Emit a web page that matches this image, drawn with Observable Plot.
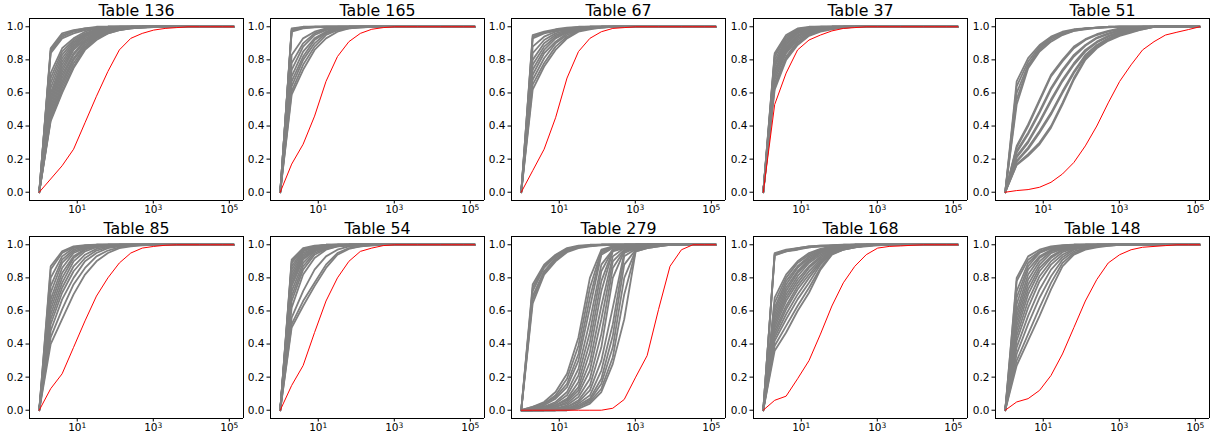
<!DOCTYPE html>
<html><head><meta charset="utf-8">
<script src="https://cdn.jsdelivr.net/npm/d3@7"></script>
<script src="https://cdn.jsdelivr.net/npm/@observablehq/plot@0.6"></script>
<style>
body{margin:0;background:#fff;}
#wrap{position:relative;width:1211px;height:437px;background:#fff;overflow:hidden;}
#wrap > svg{position:absolute;}
</style></head><body><div id="wrap"></div>
<script>
// x positions: sample sizes 2^0 .. 2^17
const xs = [1,2,4,8,16,32,64,128,256,512,1024,2048,4096,8192,16384,32768,65536,131072];
const xTicks = [10, 1000, 100000];
const xTickExp = ["1", "3", "5"];
const yTicks = [0, 0.2, 0.4, 0.6, 0.8, 1.0];
const titles = ["Table 136","Table 165","Table 67","Table 37","Table 51","Table 85","Table 54","Table 279","Table 168","Table 148"];

const t136Red = [0,.08,.16,.26,.42,.58, .73,.86,.93,.96,.98,.99, .995,1,1,1,1,1];
const t136Gray = [
[0,.87,.96,.98,.99,1, 1,1,1,1,1,1, 1,1,1,1,1,1],
[0,.86,.95,.975,.99,.995, 1,1,1,1,1,1, 1,1,1,1,1,1],
[0,.85,.94,.97,.985,.995, 1,1,1,1,1,1, 1,1,1,1,1,1],
[0,.84,.93,.96,.98,.99, .997,1,1,1,1,1, 1,1,1,1,1,1],
[0,.72,.87,.93,.97,.99, 1,1,1,1,1,1, 1,1,1,1,1,1],
[0,.69,.85,.92,.96,.985, .995,1,1,1,1,1, 1,1,1,1,1,1],
[0,.66,.83,.91,.955,.98, .99,.997,1,1,1,1, 1,1,1,1,1,1],
[0,.63,.81,.90,.95,.975, .99,.995,1,1,1,1, 1,1,1,1,1,1],
[0,.60,.79,.89,.945,.97, .985,.995,1,1,1,1, 1,1,1,1,1,1],
[0,.58,.77,.88,.94,.97, .985,.993,.997,1,1,1, 1,1,1,1,1,1],
[0,.56,.75,.87,.93,.965, .98,.99,.996,1,1,1, 1,1,1,1,1,1],
[0,.54,.73,.86,.92,.96, .98,.99,.995,1,1,1, 1,1,1,1,1,1],
[0,.52,.71,.84,.915,.955, .975,.988,.995,1,1,1, 1,1,1,1,1,1],
[0,.50,.69,.83,.91,.95, .975,.987,.994,.998,1,1, 1,1,1,1,1,1],
[0,.48,.67,.81,.90,.945, .97,.985,.993,.997,1,1, 1,1,1,1,1,1],
[0,.46,.65,.80,.89,.94, .97,.985,.993,.997,1,1, 1,1,1,1,1,1],
[0,.45,.63,.78,.88,.935, .965,.982,.99,.996,1,1, 1,1,1,1,1,1],
[0,.44,.61,.76,.87,.93, .96,.98,.99,.995,.998,1, 1,1,1,1,1,1],
[0,.43,.60,.75,.86,.92, .96,.98,.99,.995,.998,1, 1,1,1,1,1,1]
];

const t165Red = [0,.17,.29,.46,.67,.82, .91,.96,.985,.995,1,1, 1,1,1,1,1,1];
const t165Gray = [
[0,.99,1,1,1,1, 1,1,1,1,1,1, 1,1,1,1,1,1],
[0,.985,.998,1,1,1, 1,1,1,1,1,1, 1,1,1,1,1,1],
[0,.98,.995,1,1,1, 1,1,1,1,1,1, 1,1,1,1,1,1],
[0,.975,.993,.998,1,1, 1,1,1,1,1,1, 1,1,1,1,1,1],
[0,.97,.99,.997,1,1, 1,1,1,1,1,1, 1,1,1,1,1,1],
[0,.83,.93,.97,.99,1, 1,1,1,1,1,1, 1,1,1,1,1,1],
[0,.78,.90,.96,.985,.995, 1,1,1,1,1,1, 1,1,1,1,1,1],
[0,.74,.88,.95,.98,.995, 1,1,1,1,1,1, 1,1,1,1,1,1],
[0,.70,.85,.93,.97,.99, .997,1,1,1,1,1, 1,1,1,1,1,1],
[0,.67,.82,.92,.965,.985, .995,1,1,1,1,1, 1,1,1,1,1,1],
[0,.64,.80,.90,.96,.98, .993,1,1,1,1,1, 1,1,1,1,1,1],
[0,.61,.77,.88,.95,.98, .99,.997,1,1,1,1, 1,1,1,1,1,1],
[0,.59,.74,.86,.93,.97, .99,.995,1,1,1,1, 1,1,1,1,1,1]
];

const t67Red = [0,.13,.26,.45,.69,.85, .93,.97,.99,.995,1,1, 1,1,1,1,1,1];
const t67Gray = [
[0,.95,.97,.985,.995,1, 1,1,1,1,1,1, 1,1,1,1,1,1],
[0,.94,.965,.98,.99,.997, 1,1,1,1,1,1, 1,1,1,1,1,1],
[0,.93,.96,.975,.99,.995, 1,1,1,1,1,1, 1,1,1,1,1,1],
[0,.88,.94,.97,.985,.995, 1,1,1,1,1,1, 1,1,1,1,1,1],
[0,.84,.92,.96,.98,.99, .997,1,1,1,1,1, 1,1,1,1,1,1],
[0,.80,.90,.95,.975,.99, .995,1,1,1,1,1, 1,1,1,1,1,1],
[0,.77,.88,.94,.97,.985, .995,1,1,1,1,1, 1,1,1,1,1,1],
[0,.74,.86,.93,.965,.985, .995,1,1,1,1,1, 1,1,1,1,1,1],
[0,.71,.84,.91,.96,.98, .99,.997,1,1,1,1, 1,1,1,1,1,1],
[0,.68,.81,.90,.95,.98, .99,.997,1,1,1,1, 1,1,1,1,1,1],
[0,.65,.78,.88,.94,.975, .99,.995,1,1,1,1, 1,1,1,1,1,1],
[0,.62,.76,.86,.93,.97, .985,.995,1,1,1,1, 1,1,1,1,1,1]
];

const t37Red = [0,.53,.72,.86,.92,.95, .975,.99,.995,1,1,1, 1,1,1,1,1,1];
const t37Gray = [
[0,.84,.95,.99,1,1, 1,1,1,1,1,1, 1,1,1,1,1,1],
[0,.83,.94,.985,.997,1, 1,1,1,1,1,1, 1,1,1,1,1,1],
[0,.82,.93,.98,.995,1, 1,1,1,1,1,1, 1,1,1,1,1,1],
[0,.80,.92,.975,.99,.997, 1,1,1,1,1,1, 1,1,1,1,1,1],
[0,.78,.91,.97,.99,.995, 1,1,1,1,1,1, 1,1,1,1,1,1],
[0,.77,.90,.965,.985,.995, 1,1,1,1,1,1, 1,1,1,1,1,1],
[0,.76,.89,.96,.98,.993, 1,1,1,1,1,1, 1,1,1,1,1,1],
[0,.74,.88,.95,.98,.99, .997,1,1,1,1,1, 1,1,1,1,1,1],
[0,.73,.87,.945,.975,.99, .995,1,1,1,1,1, 1,1,1,1,1,1],
[0,.72,.86,.94,.97,.985, .995,1,1,1,1,1, 1,1,1,1,1,1],
[0,.70,.85,.93,.965,.985, .993,1,1,1,1,1, 1,1,1,1,1,1],
[0,.68,.84,.92,.96,.98, .99,.997,1,1,1,1, 1,1,1,1,1,1],
[0,.66,.82,.91,.955,.98, .99,.995,1,1,1,1, 1,1,1,1,1,1],
[0,.64,.81,.90,.95,.975, .99,.995,1,1,1,1, 1,1,1,1,1,1],
[0,.62,.80,.89,.945,.97, .985,.995,1,1,1,1, 1,1,1,1,1,1]
];

const t51Red = [0,.01,.016,.03,.06,.11, .18,.28,.40,.54,.67,.77, .86,.91,.95,.967,.983,1];
const t51Gray = [
[0,.67,.81,.89,.94,.97, .985,.99,.995,1,1,1, 1,1,1,1,1,1],
[0,.64,.79,.88,.935,.965, .98,.99,.995,1,1,1, 1,1,1,1,1,1],
[0,.60,.77,.87,.93,.96, .98,.99,.995,.998,1,1, 1,1,1,1,1,1],
[0,.56,.76,.86,.92,.955, .975,.988,.994,.998,1,1, 1,1,1,1,1,1],
[0,.53,.75,.85,.91,.95, .975,.985,.993,.997,1,1, 1,1,1,1,1,1],
[0,.28,.41,.56,.71,.80, .88,.925,.955,.975,.99,.997, 1,1,1,1,1,1],
[0,.27,.40,.55,.70,.79, .87,.92,.95,.97,.985,.995, 1,1,1,1,1,1],
[0,.25,.36,.49,.63,.74, .83,.89,.935,.96,.98,.99, .997,1,1,1,1,1],
[0,.24,.35,.48,.62,.73, .82,.885,.93,.955,.975,.99, .997,1,1,1,1,1],
[0,.22,.31,.43,.56,.68, .78,.86,.91,.945,.97,.985, .995,1,1,1,1,1],
[0,.21,.30,.42,.55,.67, .77,.85,.905,.94,.965,.985, .995,1,1,1,1,1],
[0,.19,.27,.37,.48,.61, .73,.83,.89,.93,.96,.98, .99,1,1,1,1,1],
[0,.185,.26,.36,.47,.60, .72,.82,.88,.925,.955,.975, .99,1,1,1,1,1],
[0,.17,.23,.30,.40,.54, .69,.81,.88,.92,.95,.97, .985,1,1,1,1,1],
[0,.165,.22,.29,.39,.53, .68,.80,.87,.915,.945,.965, .985,1,1,1,1,1]
];

const t85Red = [0,.13,.22,.38,.54,.69, .80,.89,.95,.98,.99,.997, 1,1,1,1,1,1];
const t85Gray = [
[0,.87,.96,.99,.997,1, 1,1,1,1,1,1, 1,1,1,1,1,1],
[0,.85,.95,.985,.995,1, 1,1,1,1,1,1, 1,1,1,1,1,1],
[0,.80,.93,.98,.995,1, 1,1,1,1,1,1, 1,1,1,1,1,1],
[0,.75,.91,.97,.99,.997, 1,1,1,1,1,1, 1,1,1,1,1,1],
[0,.71,.89,.96,.985,.995, 1,1,1,1,1,1, 1,1,1,1,1,1],
[0,.67,.86,.95,.98,.993, 1,1,1,1,1,1, 1,1,1,1,1,1],
[0,.64,.83,.93,.975,.99, .997,1,1,1,1,1, 1,1,1,1,1,1],
[0,.61,.80,.92,.97,.99, .995,1,1,1,1,1, 1,1,1,1,1,1],
[0,.58,.77,.90,.96,.985, .995,1,1,1,1,1, 1,1,1,1,1,1],
[0,.55,.74,.87,.94,.975, .99,.997,1,1,1,1, 1,1,1,1,1,1],
[0,.52,.71,.84,.92,.965, .985,.995,1,1,1,1, 1,1,1,1,1,1],
[0,.48,.67,.80,.90,.95, .98,.99,.997,1,1,1, 1,1,1,1,1,1],
[0,.44,.61,.76,.86,.93, .965,.985,.995,1,1,1, 1,1,1,1,1,1],
[0,.40,.55,.70,.82,.90, .95,.98,.99,.997,1,1, 1,1,1,1,1,1]
];

const t54Red = [0,.15,.27,.47,.66,.80, .90,.96,.98,.995,1,1, 1,1,1,1,1,1];
const t54Gray = [
[0,.91,.98,.995,1,1, 1,1,1,1,1,1, 1,1,1,1,1,1],
[0,.90,.975,.99,1,1, 1,1,1,1,1,1, 1,1,1,1,1,1],
[0,.89,.97,.99,.997,1, 1,1,1,1,1,1, 1,1,1,1,1,1],
[0,.87,.965,.99,.997,1, 1,1,1,1,1,1, 1,1,1,1,1,1],
[0,.85,.96,.985,.995,1, 1,1,1,1,1,1, 1,1,1,1,1,1],
[0,.83,.95,.98,.995,1, 1,1,1,1,1,1, 1,1,1,1,1,1],
[0,.81,.94,.98,.99,.997, 1,1,1,1,1,1, 1,1,1,1,1,1],
[0,.79,.93,.975,.99,.997, 1,1,1,1,1,1, 1,1,1,1,1,1],
[0,.77,.92,.97,.99,.995, 1,1,1,1,1,1, 1,1,1,1,1,1],
[0,.75,.91,.965,.985,.995, 1,1,1,1,1,1, 1,1,1,1,1,1],
[0,.72,.89,.96,.985,.995, 1,1,1,1,1,1, 1,1,1,1,1,1],
[0,.69,.87,.95,.98,.993, 1,1,1,1,1,1, 1,1,1,1,1,1],
[0,.66,.85,.94,.975,.99, .997,1,1,1,1,1, 1,1,1,1,1,1],
[0,.62,.82,.92,.97,.99, .995,1,1,1,1,1, 1,1,1,1,1,1],
[0,.56,.72,.85,.93,.97, .99,.995,1,1,1,1, 1,1,1,1,1,1],
[0,.52,.66,.77,.88,.95, .98,.99,.997,1,1,1, 1,1,1,1,1,1],
[0,.50,.63,.75,.86,.94, .975,.99,.997,1,1,1, 1,1,1,1,1,1]
];

const t279Red = [0,0,0,0,0,0, 0,0,.012,.065,.20,.33, .61,.87,.97,1,1,1];
const t279Gray = [
[0,.76,.88,.94,.98,.995, 1,1,1,1,1,1, 1,1,1,1,1,1],
[0,.74,.87,.935,.975,.99, .997,1,1,1,1,1, 1,1,1,1,1,1],
[0,.72,.86,.93,.97,.99, .995,1,1,1,1,1, 1,1,1,1,1,1],
[0,.69,.84,.92,.965,.985, .995,1,1,1,1,1, 1,1,1,1,1,1],
[0,.67,.83,.91,.96,.985, .993,1,1,1,1,1, 1,1,1,1,1,1],
[0,.645,.82,.90,.955,.98, .99,.997,1,1,1,1, 1,1,1,1,1,1],
[0,.02,.05,.11,.22,.44, .80,.97,.99,1,1,1, 1,1,1,1,1,1],
[0,.01,.04,.09,.19,.39, .74,.96,.99,1,1,1, 1,1,1,1,1,1],
[0,.02,.04,.08,.16,.34, .68,.95,.985,1,1,1, 1,1,1,1,1,1],
[0,.01,.03,.07,.14,.30, .62,.94,.98,.995,1,1, 1,1,1,1,1,1],
[0,.01,.02,.05,.11,.25, .54,.88,.97,.99,1,1, 1,1,1,1,1,1],
[0,.01,.02,.04,.09,.21, .47,.84,.97,.99,1,1, 1,1,1,1,1,1],
[0,0,.02,.03,.07,.17, .41,.78,.965,.985,1,1, 1,1,1,1,1,1],
[0,0,.01,.03,.06,.14, .35,.72,.96,.98,.995,1, 1,1,1,1,1,1],
[0,0,.01,.02,.05,.12, .29,.63,.93,.98,.99,1, 1,1,1,1,1,1],
[0,0,.01,.02,.04,.10, .24,.55,.90,.97,.99,1, 1,1,1,1,1,1],
[0,0,0,.01,.03,.08, .19,.46,.86,.965,.985,1, 1,1,1,1,1,1],
[0,0,0,.01,.02,.06, .15,.38,.80,.96,.98,.995, 1,1,1,1,1,1],
[0,0,0,.01,.02,.05, .12,.30,.62,.95,.98,.99, 1,1,1,1,1,1],
[0,0,0,0,.01,.04, .09,.24,.52,.93,.975,.99, 1,1,1,1,1,1],
[0,0,0,0,.01,.03, .07,.19,.45,.88,.97,.99, 1,1,1,1,1,1],
[0,0,0,0,.01,.02, .06,.16,.38,.80,.965,.985, .995,1,1,1,1,1],
[0,0,0,0,0,.02, .05,.13,.32,.70,.96,.98, .99,1,1,1,1,1],
[0,0,0,0,0,.01, .04,.11,.28,.55,.96,.98, .99,1,1,1,1,1]
];

const t168Red = [0,.06,.085,.19,.30,.46, .63,.77,.87,.94,.98,.99, .993,.997,1,1,1,1];
const t168Gray = [
[0,.95,.97,.98,.99,.995, .995,.997,1,1,1,1, 1,1,1,1,1,1],
[0,.945,.965,.98,.99,.995, .997,1,1,1,1,1, 1,1,1,1,1,1],
[0,.94,.96,.975,.985,.99, .995,.997,1,1,1,1, 1,1,1,1,1,1],
[0,.935,.96,.97,.985,.99, .995,1,1,1,1,1, 1,1,1,1,1,1],
[0,.68,.82,.90,.95,.975, .99,.995,1,1,1,1, 1,1,1,1,1,1],
[0,.65,.80,.89,.94,.97, .985,.995,1,1,1,1, 1,1,1,1,1,1],
[0,.62,.78,.87,.93,.965, .985,.993,1,1,1,1, 1,1,1,1,1,1],
[0,.60,.76,.86,.92,.96, .98,.99,.997,1,1,1, 1,1,1,1,1,1],
[0,.58,.74,.84,.91,.955, .98,.99,.997,1,1,1, 1,1,1,1,1,1],
[0,.56,.72,.83,.90,.95, .975,.99,.995,1,1,1, 1,1,1,1,1,1],
[0,.54,.70,.81,.89,.94, .97,.985,.995,1,1,1, 1,1,1,1,1,1],
[0,.52,.68,.79,.87,.93, .97,.985,.993,1,1,1, 1,1,1,1,1,1],
[0,.50,.66,.77,.86,.92, .965,.98,.99,.997,1,1, 1,1,1,1,1,1],
[0,.48,.63,.75,.84,.91, .96,.98,.99,.997,1,1, 1,1,1,1,1,1],
[0,.46,.61,.73,.82,.90, .955,.975,.99,.995,1,1, 1,1,1,1,1,1],
[0,.44,.58,.70,.80,.89, .95,.975,.99,.995,1,1, 1,1,1,1,1,1],
[0,.42,.55,.67,.77,.88, .95,.97,.985,.995,1,1, 1,1,1,1,1,1],
[0,.39,.51,.63,.74,.86, .945,.97,.985,.995,1,1, 1,1,1,1,1,1],
[0,.36,.47,.60,.71,.85, .94,.97,.985,.99,.997,1, 1,1,1,1,1,1]
];

const t148Red = [0,.05,.07,.12,.21,.34, .50,.66,.79,.89,.94,.97, .985,.99,.995,1,1,1];
const t148Gray = [
[0,.80,.93,.97,.99,.997, 1,1,1,1,1,1, 1,1,1,1,1,1],
[0,.78,.91,.96,.985,.995, 1,1,1,1,1,1, 1,1,1,1,1,1],
[0,.72,.89,.955,.98,.993, 1,1,1,1,1,1, 1,1,1,1,1,1],
[0,.68,.87,.95,.98,.99, .997,1,1,1,1,1, 1,1,1,1,1,1],
[0,.64,.85,.93,.97,.99, .995,1,1,1,1,1, 1,1,1,1,1,1],
[0,.60,.82,.92,.965,.985, .995,1,1,1,1,1, 1,1,1,1,1,1],
[0,.57,.79,.90,.96,.98, .99,.997,1,1,1,1, 1,1,1,1,1,1],
[0,.54,.76,.88,.95,.975, .99,.995,1,1,1,1, 1,1,1,1,1,1],
[0,.51,.73,.86,.93,.97, .985,.995,1,1,1,1, 1,1,1,1,1,1],
[0,.48,.70,.84,.92,.965, .985,.993,1,1,1,1, 1,1,1,1,1,1],
[0,.45,.66,.81,.90,.955, .98,.99,.997,1,1,1, 1,1,1,1,1,1],
[0,.42,.62,.78,.88,.94, .975,.99,.995,1,1,1, 1,1,1,1,1,1],
[0,.38,.57,.73,.85,.925, .97,.985,.993,1,1,1, 1,1,1,1,1,1],
[0,.34,.52,.68,.81,.91, .96,.98,.99,.997,1,1, 1,1,1,1,1,1],
[0,.30,.46,.62,.77,.89, .95,.975,.99,.995,1,1, 1,1,1,1,1,1],
[0,.27,.42,.57,.73,.87, .94,.97,.985,.993,1,1, 1,1,1,1,1,1]
];

const reds = [t136Red,t165Red,t67Red,t37Red,t51Red,t85Red,t54Red,t279Red,t168Red,t148Red];
const grays = [t136Gray,t165Gray,t67Gray,t37Gray,t51Gray,t85Gray,t54Gray,t279Gray,t168Gray,t148Gray];

// layout (pixels)
const colLefts = [29, 270, 511, 753, 995];
const rowTops = [18, 236];
const boxW = 214, boxH = 182;
const mL = 28, mR = 2, mT = 18, mB = 18;
const xDomain = [Math.pow(10, -0.256), Math.pow(10, 5.373)];
const yDomain = [-0.05, 1.05];

const wrap = document.getElementById("wrap");
titles.forEach((title, i) => {
  const c = i % 5, r = Math.floor(i / 5);
  const grayRows = grays[i].flatMap((s, j) => s.map((y, k) => ({x: xs[k], y, s: j})));
  const redRows = reds[i].map((y, k) => ({x: xs[k], y}));
  const svg = Plot.plot({
    width: mL + boxW + mR,
    height: mT + boxH + mB,
    marginLeft: mL, marginRight: mR, marginTop: mT, marginBottom: mB,
    style: {fontFamily: "'DejaVu Sans', sans-serif", fontSize: "10.5px", color: "black", background: "transparent", overflow: "visible"},
    x: {type: "log", domain: xDomain},
    y: {domain: yDomain},
    marks: [
      Plot.line(grayRows, {x: "x", y: "y", z: "s", stroke: "#808080", strokeWidth: 1.8}),
      Plot.line(redRows, {x: "x", y: "y", stroke: "red", strokeWidth: 1}),
      Plot.ruleX(xDomain, {stroke: "black", strokeWidth: 1}),
      Plot.ruleY(yDomain, {stroke: "black", strokeWidth: 1}),
      Plot.axisX({ticks: xTicks, tickFormat: (d) => "10^" + xTickExp[xTicks.indexOf(d)], tickSize: 3.5, tickPadding: 2, label: null, fontSize: 10.5}),
      Plot.axisY({ticks: yTicks, tickFormat: (d) => d.toFixed(1), tickSize: 3.5, tickPadding: 2.5, label: null, fontSize: 10.5}),
      Plot.text([title], {frameAnchor: "top", text: (d) => d, lineAnchor: "bottom", dy: -3, fontSize: 15.8, fill: "black"})
    ]
  });
  // render "10^n" labels with a real superscript
  svg.querySelectorAll("text").forEach((t) => {
    const s = t.textContent;
    const m = /^10\^(\d)$/.exec(s);
    if (m) {
      t.textContent = "10";
      const sup = document.createElementNS("http://www.w3.org/2000/svg", "tspan");
      sup.setAttribute("dy", "-0.45em");
      sup.setAttribute("font-size", "0.72em");
      sup.textContent = m[1];
      t.appendChild(sup);
    }
  });
  svg.style.left = (colLefts[c] - mL) + "px";
  svg.style.top = (rowTops[r] - mT) + "px";
  wrap.appendChild(svg);
});
</script>
</body></html>
